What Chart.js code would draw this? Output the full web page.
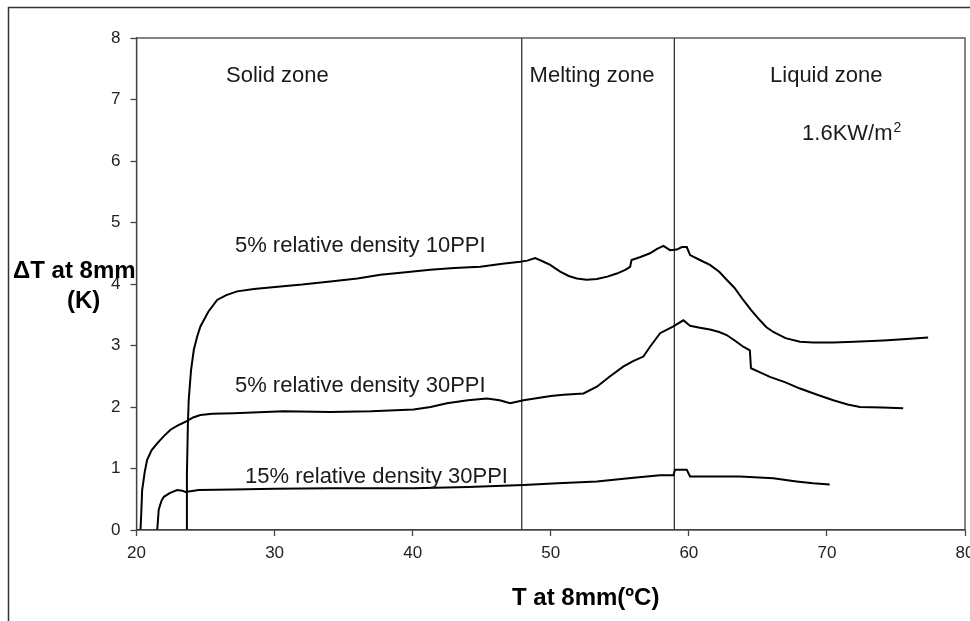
<!DOCTYPE html>
<html>
<head>
<meta charset="utf-8">
<script src="https://cdn.jsdelivr.net/npm/chart.js@4.4.1/dist/chart.umd.min.js"></script>
<style>
  html, body { margin: 0; padding: 0; background: #fff; }
  canvas { display: block; }
</style>
</head>
<body>
<canvas id="chart" width="970" height="621"></canvas>
<script>
// DATA
const xTicks = [20, 30, 40, 50, 60, 70, 80];
const yTicks = [0, 1, 2, 3, 4, 5, 6, 7, 8];

// 5% relative density 10PPI
const ppi10Temp = [23.6, 23.65, 23.72, 23.78, 23.95, 24.15, 24.4, 24.63, 25.2, 25.84, 26.5, 27.29, 28.5, 30.42, 32, 34.04, 36, 37.66, 39.5, 41.27, 43, 44.89, 46.5, 47.79, 48.3, 48.87, 49.4, 49.96, 50.68, 51.3, 51.89, 52.6, 53.34, 54.1, 54.78, 55.4, 55.75, 55.85, 56.5, 57.19, 57.7, 58.16, 58.64, 59.12, 59.5, 59.85, 60.09, 60.8, 61.53, 62.2, 62.74, 63.3, 63.94, 64.5, 65.15, 65.6, 66.12, 67, 68.05, 69, 70.46, 72, 74.08, 75.5, 77.33];
const ppi10Delta = [0, 0.9, 1.7, 2.11, 2.6, 2.93, 3.15, 3.31, 3.55, 3.74, 3.82, 3.88, 3.92, 3.96, 3.99, 4.04, 4.09, 4.15, 4.19, 4.23, 4.26, 4.28, 4.33, 4.36, 4.38, 4.42, 4.37, 4.31, 4.2, 4.13, 4.09, 4.07, 4.08, 4.12, 4.17, 4.23, 4.28, 4.39, 4.44, 4.5, 4.57, 4.62, 4.55, 4.56, 4.6, 4.6, 4.47, 4.39, 4.31, 4.2, 4.07, 3.94, 3.74, 3.58, 3.41, 3.3, 3.22, 3.12, 3.06, 3.05, 3.05, 3.06, 3.08, 3.1, 3.13];

// 5% relative density 30PPI
const ppi30Temp = [20, 20.29, 20.35, 20.41, 20.6, 20.77, 21.1, 21.5, 22, 22.46, 23, 23.55, 24.1, 24.63, 25.5, 27.04, 30.66, 34.04, 37, 40.07, 41.3, 42.48, 44, 45.38, 46.3, 47.06, 48.03, 50, 50.92, 52.37, 53.34, 54.3, 55.27, 56, 56.71, 57.19, 57.92, 58.88, 59.6, 60.09, 60.8, 61.53, 62.2, 62.74, 63.4, 63.94, 64.42, 64.5, 65.2, 65.87, 67, 68.05, 69.3, 70.46, 71.5, 72.39, 74, 75.52];
const ppi30Delta = [0, 0, 0.3, 0.65, 0.95, 1.14, 1.3, 1.41, 1.53, 1.63, 1.7, 1.76, 1.83, 1.87, 1.89, 1.9, 1.93, 1.92, 1.93, 1.96, 2.0, 2.06, 2.11, 2.14, 2.11, 2.06, 2.11, 2.18, 2.2, 2.22, 2.33, 2.5, 2.66, 2.75, 2.82, 2.98, 3.2, 3.31, 3.41, 3.32, 3.29, 3.26, 3.22, 3.17, 3.07, 2.98, 2.92, 2.63, 2.56, 2.49, 2.4, 2.3, 2.2, 2.11, 2.04, 2.0, 1.99, 1.98];

// 15% relative density 30PPI
const dense30Temp = [21.5, 21.61, 21.8, 21.98, 22.4, 22.94, 23.3, 23.55, 24.5, 27, 30, 34.04, 37, 40.07, 44, 48.03, 50.5, 53.34, 56, 57.92, 58.88, 59.0, 59.85, 60.09, 62, 63.7, 66.12, 67.8, 69, 70.2];
const dense30Delta = [0, 0.33, 0.47, 0.54, 0.6, 0.65, 0.64, 0.62, 0.65, 0.66, 0.67, 0.68, 0.68, 0.68, 0.7, 0.73, 0.76, 0.79, 0.85, 0.89, 0.89, 0.98, 0.98, 0.87, 0.87, 0.87, 0.84, 0.79, 0.76, 0.74];

// zone boundaries (°C)
const zoneBounds = [47.9, 58.95];

// text labels: [text, x value, y value (baseline)]
const curveLabels = [
  ['5% relative density 10PPI', 27.13, 4.52],
  ['5% relative density 30PPI', 27.13, 2.24],
  ['15% relative density 30PPI', 27.86, 0.76]
];
const zoneLabels = [
  ['Solid zone', 26.48, 7.28],
  ['Melting zone', 48.47, 7.28],
  ['Liquid zone', 65.88, 7.28]
];
const fluxLabel = ['1.6KW/m', '2', 68.2, 6.34];

const toPoints = (xs, ys) => xs.map((x, i) => ({ x: x, y: ys[i] }));

const curveStyle = {
  borderColor: '#000',
  borderWidth: 2,
  pointRadius: 0,
  tension: 0,
  fill: false
};

const datasets = [
  Object.assign({ label: '5% relative density 10PPI', data: toPoints(ppi10Temp, ppi10Delta) }, curveStyle),
  Object.assign({ label: '5% relative density 30PPI', data: toPoints(ppi30Temp, ppi30Delta) }, curveStyle),
  Object.assign({ label: '15% relative density 30PPI', data: toPoints(dense30Temp, dense30Delta) }, curveStyle)
];
zoneBounds.forEach(b => {
  datasets.push({
    label: 'bound ' + b,
    data: [{ x: b, y: 0 }, { x: b, y: 8 }],
    borderColor: '#222',
    borderWidth: 1.2,
    pointRadius: 0
  });
});

const FONT = '"Liberation Sans", Arial, sans-serif';

const overlay = {
  id: 'overlay',
  afterDraw(chart) {
    const { ctx, chartArea: a, scales: { x, y } } = chart;
    ctx.save();
    // outer frame
    ctx.strokeStyle = '#333';
    ctx.lineWidth = 1.5;
    ctx.beginPath();
    ctx.moveTo(8.5, 630);
    ctx.lineTo(8.5, 7.5);
    ctx.lineTo(980, 7.5);
    ctx.stroke();
    // plot frame
    ctx.strokeStyle = '#444';
    ctx.lineWidth = 1.3;
    ctx.strokeRect(a.left, a.top, a.right - a.left, a.bottom - a.top);

    ctx.fillStyle = '#1a1a1a';
    ctx.textBaseline = 'alphabetic';
    ctx.textAlign = 'left';
    ctx.font = '22px ' + FONT;
    curveLabels.concat(zoneLabels).forEach(([t, vx, vy]) => {
      ctx.fillText(t, x.getPixelForValue(vx), y.getPixelForValue(vy));
    });
    const fx = x.getPixelForValue(fluxLabel[2]);
    const fy = y.getPixelForValue(fluxLabel[3]);
    ctx.fillText(fluxLabel[0], fx, fy);
    const w = ctx.measureText(fluxLabel[0]).width;
    ctx.font = '14px ' + FONT;
    ctx.fillText(fluxLabel[1], fx + w + 1, fy - 8);

    // axis titles
    ctx.fillStyle = '#000';
    ctx.font = 'bold 24px ' + FONT;
    ctx.fillText('\u0394T at 8mm', 13, 278);
    ctx.fillText('(K)', 67, 308);
    ctx.fillText('T at 8mm(\u00baC)', 512, 605);
    ctx.restore();
  }
};

new Chart(document.getElementById('chart'), {
  type: 'line',
  data: { datasets: datasets },
  options: {
    responsive: false,
    animation: false,
    devicePixelRatio: 1,
    layout: { padding: { top: 38, right: 5, left: 0, bottom: 0 } },
    plugins: { legend: { display: false }, tooltip: { enabled: false } },
    scales: {
      x: {
        type: 'linear',
        min: 20,
        max: 80,
        afterBuildTicks: s => { s.ticks = xTicks.map(v => ({ value: v })); },
        afterFit: s => { s.height = 91; s.paddingLeft = 0; s.paddingRight = 0; },
        grid: { drawOnChartArea: false, tickLength: 6, color: '#444', tickWidth: 1.3 },
        border: { color: '#444', width: 1.3 },
        ticks: { color: '#222', font: { family: FONT, size: 17 }, padding: 7, maxRotation: 0, autoSkip: false }
      },
      y: {
        type: 'linear',
        min: 0,
        max: 8,
        afterBuildTicks: s => { s.ticks = yTicks.map(v => ({ value: v })); },
        afterFit: s => { s.width = 136.5; },
        grid: { drawOnChartArea: false, tickLength: 6, color: '#444', tickWidth: 1.3 },
        border: { color: '#444', width: 1.3 },
        ticks: { color: '#222', font: { family: FONT, size: 17 }, padding: 10 }
      }
    }
  },
  plugins: [overlay]
});
</script>
</body>
</html>
